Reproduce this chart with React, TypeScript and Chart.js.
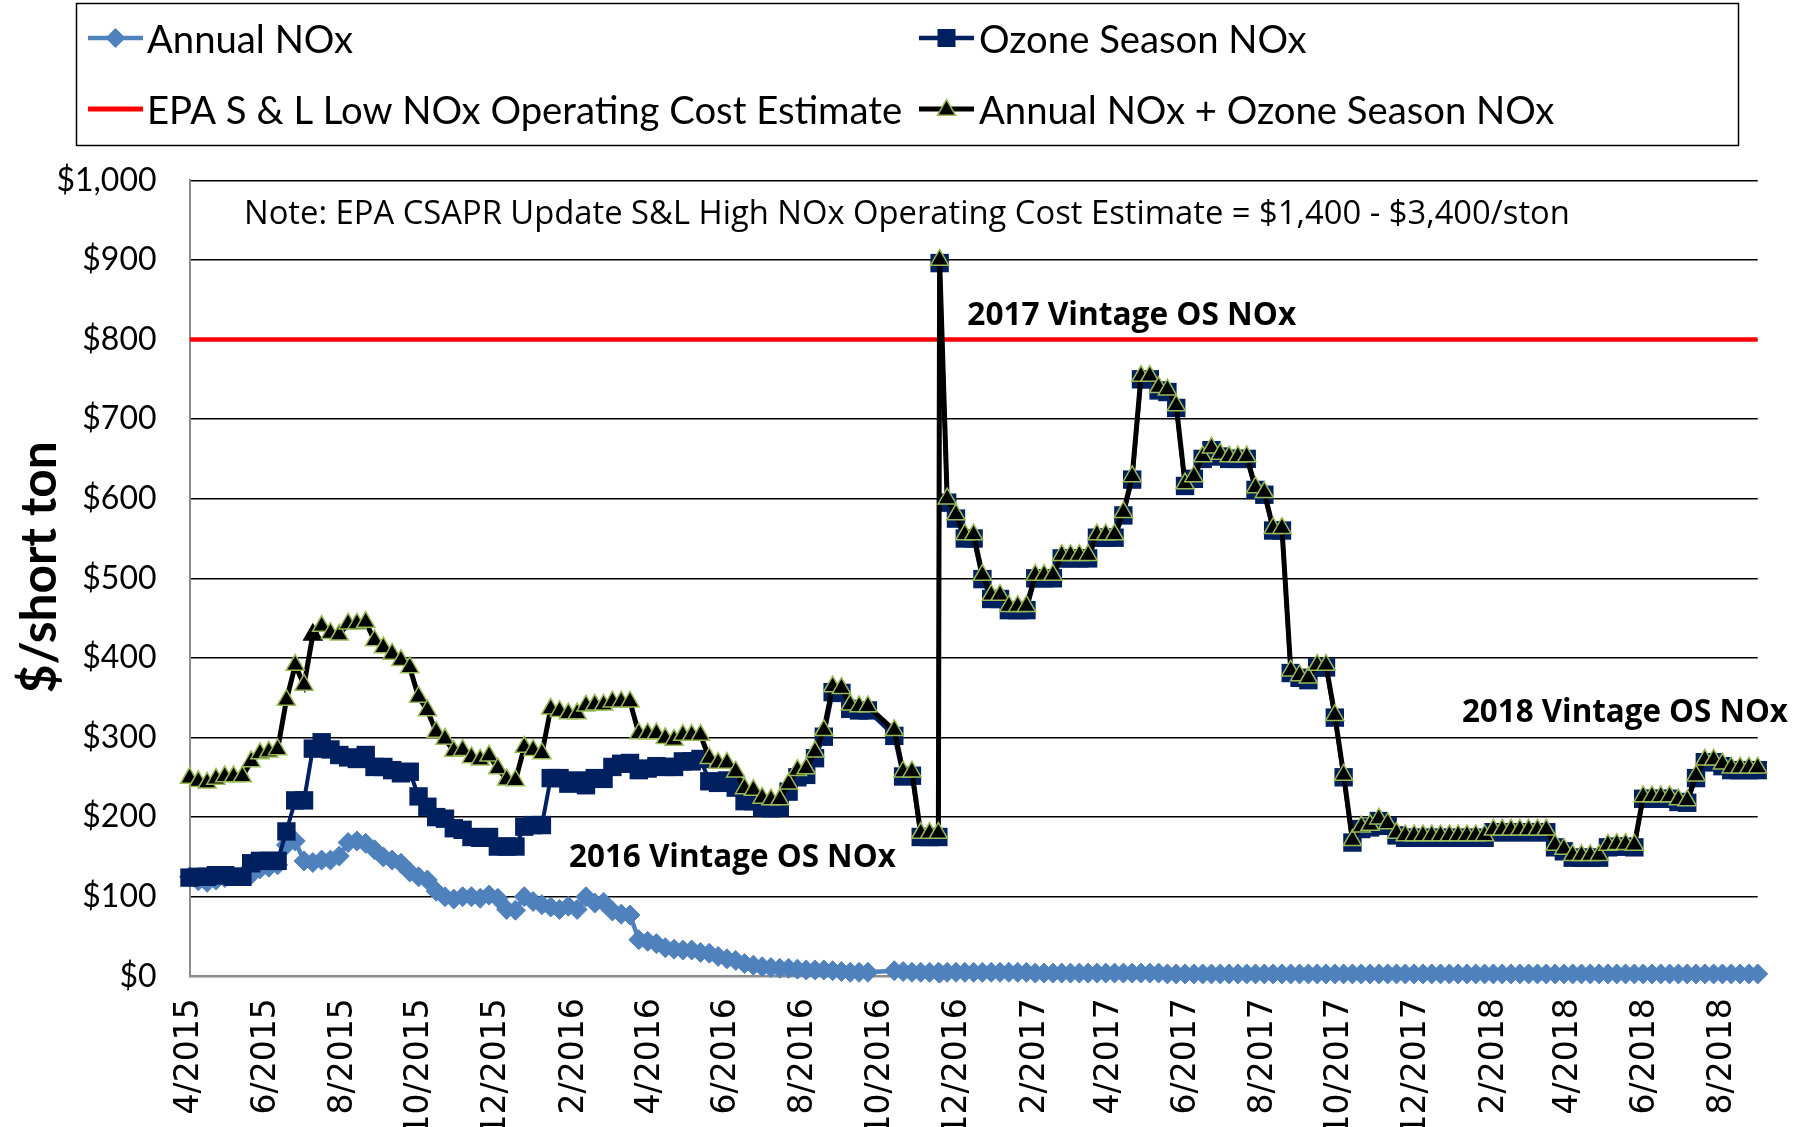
import React, { useEffect, useRef } from 'react';
import { Chart, registerables } from 'chart.js';

Chart.register(...registerables);

// ---------------- data ----------------
// weekly quotes, first week = 1 April 2015
const FIRST_WEEK_UTC = Date.UTC(2015, 3, 1);
const DAY_MS = 86400000;
const WEEK_DAYS = 7;

const xTickLabels = [
  '4/2015', '6/2015', '8/2015', '10/2015', '12/2015',
  '2/2016', '4/2016', '6/2016', '8/2016', '10/2016', '12/2016',
  '2/2017', '4/2017', '6/2017', '8/2017', '10/2017', '12/2017',
  '2/2018', '4/2018', '6/2018', '8/2018',
];

const annualNOx: (number | null)[] = [
  125, 120, 118, 121, 124, 126, 126, 128, 135, 137,
  140, 165, 170, 145, 143, 146, 146, 151, 168, 170,
  167, 159, 150, 146, 142, 131, 125, 121, 107, 100,
  97, 100, 100, 98, 102, 98, 84, 83, 100, 94,
  90, 87, 84, 88, 84, 100, 92, 93, 82, 78,
  77, 46, 44, 41, 36, 34, 33, 33, 30, 29,
  25, 22, 20, 16, 14, 12, 11, 10, 10, 9,
  8, 8, 8, 7, 6, 5, 5, 5, null, null,
  7, 6, 5, 5, 5, 5, 5, 5, 5, 5,
  5, 5, 5, 5, 5, 5, 4, 4, 4, 4,
  4, 4, 4, 4, 4, 4, 4, 4, 4, 4,
  4, 3, 3, 3, 3, 3, 3, 3, 3, 3,
  3, 3, 3, 3, 3, 3, 3, 3, 3, 3,
  3, 3, 3, 3, 3, 3, 3, 3, 3, 3,
  3, 3, 3, 3, 3, 3, 3, 3, 3, 3,
  3, 3, 3, 3, 3, 3, 3, 3, 3, 3,
  3, 3, 3, 3, 3, 3, 3, 3, 3, 3,
  3, 3, 3, 3, 3, 3, 3, 3, 3,
];

const ozoneSeasonNOx: (number | null)[] = [
  124, 125, 125, 127, 127, 125, 125, 142, 145, 145,
  145, 182, 221, 221, 286, 294, 285, 278, 275, 273,
  278, 263, 263, 259, 255, 257, 226, 213, 200, 198,
  186, 184, 175, 174, 175, 163, 163, 163, 188, 190,
  190, 249, 249, 242, 246, 240, 249, 248, 263, 267,
  268, 259, 261, 264, 263, 263, 270, 270, 273, 245,
  243, 246, 237, 220, 220, 212, 211, 212, 232, 250,
  253, 274, 301, 357, 356, 336, 334, 334, null, null,
  302, 251, 252, 175, 175, 175, 595, 575, 550, 550,
  499, 474, 474, 460, 460, 460, 500, 500, 500, 525,
  525, 525, 525, 551, 551, 551, 579, 624, 750, 750,
  736, 734, 714, 616, 625, 650, 661, 653, 650, 650,
  650, 611, 605, 560, 560, 381, 375, 372, 388, 388,
  325, 250, 168, 185, 187, 195, 189, 177, 174, 174,
  174, 174, 174, 174, 174, 174, 174, 174, 181, 181,
  181, 181, 181, 181, 181, 162, 157, 149, 149, 149,
  149, 162, 163, 163, 162, 223, 223, 223, 223, 219,
  218, 249, 269, 269, 264, 259, 259, 259, 259,
];

const annualPlusOzoneNOx: (number | null)[] = [
  249, 245, 243, 248, 251, 251, 251, 270, 280, 282,
  285, 347, 391, 366, 429, 440, 431, 429, 443, 443,
  445, 422, 413, 405, 397, 388, 351, 334, 307, 298,
  283, 284, 275, 272, 277, 261, 247, 246, 288, 284,
  280, 336, 333, 330, 330, 340, 341, 341, 345, 345,
  345, 305, 305, 305, 299, 297, 303, 303, 303, 274,
  268, 268, 257, 236, 234, 224, 222, 222, 242, 259,
  261, 282, 309, 364, 362, 341, 339, 339, null, null,
  309, 257, 257, 180, 180, 180, 600, 580, 555, 555,
  504, 479, 479, 465, 465, 465, 504, 504, 504, 529,
  529, 529, 529, 555, 555, 555, 583, 628, 754, 754,
  740, 737, 717, 619, 628, 653, 664, 656, 653, 653,
  653, 614, 608, 563, 563, 384, 378, 375, 391, 391,
  328, 253, 171, 188, 190, 198, 192, 180, 177, 177,
  177, 177, 177, 177, 177, 177, 177, 177, 184, 184,
  184, 184, 184, 184, 184, 165, 160, 152, 152, 152,
  152, 165, 166, 166, 165, 226, 226, 226, 226, 222,
  221, 252, 272, 272, 267, 262, 262, 262, 262,
];

// extra quote the day after week 85 (first 2017-vintage quote)
const vintageSwitchDay = 596;
const vintageSwitchAnnual = 4;
const vintageSwitchOzone = 896;
const vintageSwitchCombined = 900;

const epaLowNOxCost = 800;
const plainTriangleWeeks = [14];

// ---------------- helpers ----------------
const lastDay = (annualNOx.length - 1) * WEEK_DAYS;

const dayOfLabel = (label: string) => {
  const [m, y] = label.split('/').map(Number);
  return Math.round((Date.UTC(y, m - 1, 1) - FIRST_WEEK_UTC) / DAY_MS);
};
const tickDays = xTickLabels.map(dayOfLabel);
const labelByDay = new Map<number, string>();
xTickLabels.forEach((l, i) => labelByDay.set(tickDays[i], l));

const toPoints = (vals: (number | null)[], extra: number) => {
  const pts: { x: number; y: number }[] = [];
  vals.forEach((v, i) => {
    if (v !== null) pts.push({ x: i * WEEK_DAYS, y: v });
  });
  pts.push({ x: vintageSwitchDay, y: extra });
  pts.sort((a, b) => a.x - b.x);
  return pts;
};

const COLORS = {
  annual: '#4F81BD',
  ozone: '#002060',
  combined: '#000000',
  combinedEdge: '#9BBB59',
  epa: '#FF0000',
};

const annotations = [
  { text: 'Note: EPA CSAPR Update S&L High NOx Operating Cost Estimate = $1,400 - $3,400/ston', day: 43.3, value: 944.6, weight: '400', width: 1326 },
  { text: '2017 Vintage OS NOx', day: 618, value: 818, weight: '700', width: 329 },
  { text: '2016 Vintage OS NOx', day: 301.5, value: 137.8, weight: '700', width: 327 },
  { text: '2018 Vintage OS NOx', day: 1011, value: 319.5, weight: '700', width: 326 },
];

function fitFont(ctx: CanvasRenderingContext2D, text: string, weight: string, family: string, width: number) {
  ctx.font = `${weight} 100px ${family}`;
  const w = ctx.measureText(text).width;
  return `${weight} ${((100 * width) / w).toFixed(2)}px ${family}`;
}

function diamond(ctx: CanvasRenderingContext2D, x: number, y: number, r: number, color: string) {
  ctx.beginPath();
  ctx.moveTo(x - r, y);
  ctx.lineTo(x, y - r);
  ctx.lineTo(x + r, y);
  ctx.lineTo(x, y + r);
  ctx.closePath();
  ctx.fillStyle = color;
  ctx.fill();
}

function triangle(ctx: CanvasRenderingContext2D, x: number, y: number, r: number) {
  ctx.beginPath();
  for (let k = 0; k < 3; k++) {
    const a = (k * 2 * Math.PI) / 3;
    const px = x + Math.sin(a) * r;
    const py = y - Math.cos(a) * r;
    if (k === 0) ctx.moveTo(px, py);
    else ctx.lineTo(px, py);
  }
  ctx.closePath();
  ctx.fillStyle = COLORS.combined;
  ctx.fill();
  ctx.lineWidth = 1.5;
  ctx.strokeStyle = COLORS.combinedEdge;
  ctx.stroke();
}

const overlayPlugin = {
  id: 'overlay',
  afterDraw(chart: any) {
    const ctx: CanvasRenderingContext2D = chart.ctx;
    const xs = chart.scales.x;
    const ys = chart.scales.y;
    ctx.save();

    // legend box
    ctx.strokeStyle = '#000';
    ctx.lineWidth = 1.5;
    ctx.strokeRect(76.5, 3.5, 1662, 142);

    const legendFont = fitFont(ctx, 'EPA S & L Low NOx Operating Cost Estimate', '400', 'Lato', 755);
    const rows = [52.5, 123.5];
    const rowMid = [38, 109];
    const colSym = [88, 919];
    const colText = [147, 979];
    const symW = 55;

    // Annual NOx
    ctx.lineWidth = 4.5;
    ctx.strokeStyle = COLORS.annual;
    ctx.beginPath();
    ctx.moveTo(colSym[0], rowMid[0]);
    ctx.lineTo(colSym[0] + symW, rowMid[0]);
    ctx.stroke();
    diamond(ctx, colSym[0] + symW / 2, rowMid[0], 10, COLORS.annual);

    // Ozone Season NOx
    ctx.lineWidth = 4.5;
    ctx.strokeStyle = COLORS.ozone;
    ctx.beginPath();
    ctx.moveTo(colSym[1], rowMid[0]);
    ctx.lineTo(colSym[1] + symW, rowMid[0]);
    ctx.stroke();
    ctx.fillStyle = COLORS.ozone;
    ctx.fillRect(colSym[1] + symW / 2 - 9, rowMid[0] - 9, 18, 18);

    // EPA line
    ctx.lineWidth = 5;
    ctx.strokeStyle = COLORS.epa;
    ctx.beginPath();
    ctx.moveTo(colSym[0], rowMid[1]);
    ctx.lineTo(colSym[0] + symW, rowMid[1]);
    ctx.stroke();

    // Combined
    ctx.lineWidth = 5;
    ctx.strokeStyle = COLORS.combined;
    ctx.beginPath();
    ctx.moveTo(colSym[1], rowMid[1]);
    ctx.lineTo(colSym[1] + symW, rowMid[1]);
    ctx.stroke();
    triangle(ctx, colSym[1] + symW / 2, rowMid[1] + 1, 10.5);

    ctx.font = legendFont;
    ctx.fillStyle = '#000';
    ctx.textAlign = 'left';
    ctx.textBaseline = 'alphabetic';
    ctx.fillText('Annual NOx', colText[0], rows[0]);
    ctx.fillText('Ozone Season NOx', colText[1], rows[0]);
    ctx.fillText('EPA S & L Low NOx Operating Cost Estimate', colText[0], rows[1]);
    ctx.fillText('Annual NOx + Ozone Season NOx', colText[1], rows[1]);

    // annotations in data coordinates
    annotations.forEach((a) => {
      ctx.font = fitFont(ctx, a.text, a.weight, '"Open Sans"', a.width);
      ctx.fillStyle = '#000';
      ctx.textAlign = 'left';
      ctx.textBaseline = 'alphabetic';
      ctx.fillText(a.text, xs.getPixelForValue(a.day), ys.getPixelForValue(a.value));
    });

    // y axis title
    ctx.translate(40, (chart.chartArea.top + chart.chartArea.bottom) / 2 - 11);
    ctx.rotate(-Math.PI / 2);
    ctx.font = fitFont(ctx, '$/short ton', '700', 'Lato', 252);
    ctx.textAlign = 'center';
    ctx.textBaseline = 'middle';
    ctx.fillStyle = '#000';
    ctx.fillText('$/short ton', 0, 0);

    ctx.restore();
  },
};

export default function App() {
  const canvasRef = useRef<HTMLCanvasElement | null>(null);

  useEffect(() => {
    document.body.style.margin = '0';
    const canvas = canvasRef.current;
    if (!canvas) return;

    const plainDays = plainTriangleWeeks.map((w) => w * WEEK_DAYS);

    const chart = new Chart(canvas, {
      type: 'line',
      data: {
        datasets: [
          {
            label: 'Annual NOx + Ozone Season NOx',
            data: toPoints(annualPlusOzoneNOx, vintageSwitchCombined),
            borderColor: COLORS.combined,
            borderWidth: 5,
            pointStyle: 'triangle',
            pointRadius: 10.5,
            pointBackgroundColor: COLORS.combined,
            pointBorderColor: (c: any) => (c.raw && plainDays.includes(c.raw.x) ? COLORS.combined : COLORS.combinedEdge),
            pointBorderWidth: 1.5,
            order: 0,
            clip: false,
          } as any,
          {
            label: 'Ozone Season NOx',
            data: toPoints(ozoneSeasonNOx, vintageSwitchOzone),
            borderColor: COLORS.ozone,
            borderWidth: 4,
            pointStyle: 'rect',
            pointRadius: 13,
            pointBackgroundColor: COLORS.ozone,
            pointBorderColor: COLORS.ozone,
            pointBorderWidth: 0,
            order: 1,
            clip: false,
          } as any,
          {
            label: 'EPA S & L Low NOx Operating Cost Estimate',
            data: [
              { x: 0, y: epaLowNOxCost },
              { x: lastDay, y: epaLowNOxCost },
            ],
            borderColor: COLORS.epa,
            borderWidth: 4.5,
            pointRadius: 0,
            order: 2,
          } as any,
          {
            label: 'Annual NOx',
            data: toPoints(annualNOx, vintageSwitchAnnual),
            borderColor: COLORS.annual,
            borderWidth: 4.5,
            pointStyle: 'rectRot',
            pointRadius: 10,
            pointBackgroundColor: COLORS.annual,
            pointBorderColor: COLORS.annual,
            pointBorderWidth: 1,
            order: 3,
            clip: false,
          } as any,
        ],
      },
      options: {
        animation: false,
        responsive: false,
        events: [],
        layout: { padding: { top: 180.3, right: 37.3, left: 0, bottom: 0 } },
        plugins: { legend: { display: false }, tooltip: { enabled: false } },
        elements: { line: { tension: 0 } },
        scales: {
          x: {
            type: 'linear',
            min: 0,
            max: lastDay,
            grid: { display: false, drawTicks: false },
            border: { display: true, color: '#8c8c8c', width: 2 },
            afterBuildTicks: (scale: any) => {
              scale.ticks = tickDays.map((d) => ({ value: d }));
            },
            afterFit: (scale: any) => {
              scale.height = 150.7;
            },
            ticks: {
              autoSkip: false,
              maxRotation: 90,
              minRotation: 90,
              padding: 22,
              color: '#000',
              font: { family: 'DejaVu Sans', size: 33 },
              callback: (v: any) => labelByDay.get(Number(v)) ?? '',
            },
          },
          y: {
            min: 0,
            max: 1000,
            grid: {
              color: (c: any) => (c.tick && c.tick.value === 0 ? '#8c8c8c' : '#000'),
              lineWidth: 1.5,
              drawTicks: false,
            },
            border: { display: true, color: '#8c8c8c', width: 2 },
            afterFit: (scale: any) => {
              scale.width = 189.5;
            },
            ticks: {
              stepSize: 100,
              padding: 33,
              color: '#000',
              font: { family: 'Lato', size: 32 },
              callback: (v: any) => '$' + Number(v).toLocaleString('en-US'),
            },
          },
        },
      } as any,
      plugins: [overlayPlugin],
    });

    return () => chart.destroy();
  }, []);

  return <canvas ref={canvasRef} width={1795} height={1127} style={{ display: 'block' }} />;
}
